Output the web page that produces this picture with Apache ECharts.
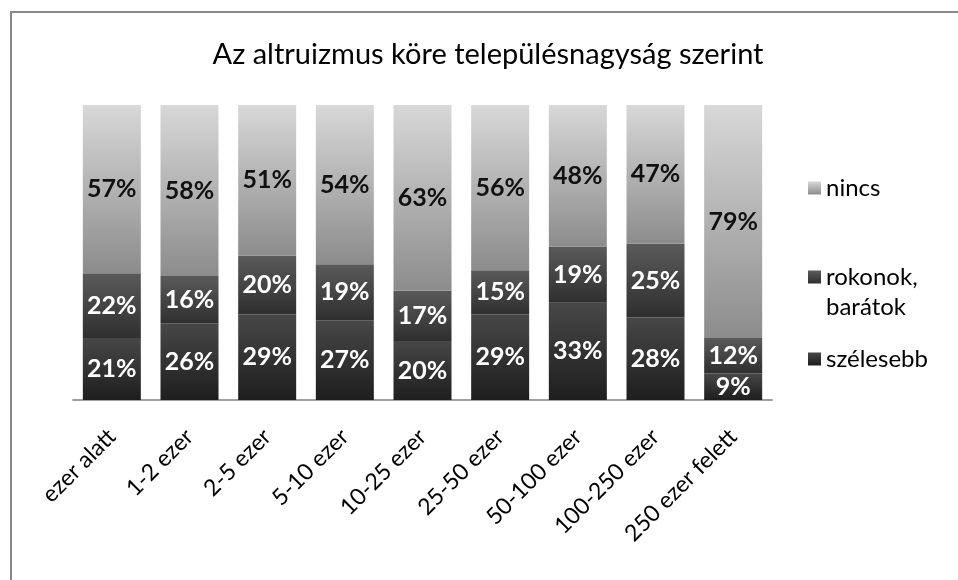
<!DOCTYPE html>
<html>
<head>
<meta charset="utf-8">
<script src="https://cdn.jsdelivr.net/npm/echarts@6/dist/echarts.min.js"></script>
<style>
  html, body { margin: 0; padding: 0; background: #fff; }
  #chart { width: 958px; height: 580px; }
</style>
</head>
<body>
<div id="chart"></div>
<script>
// kategóriák (településnagyság)
const categories = ['ezer alatt', '1-2 ezer', '2-5 ezer', '5-10 ezer', '10-25 ezer', '25-50 ezer', '50-100 ezer', '100-250 ezer', '250 ezer felett'];
// sorozatok, százalék
const szelesebb = [21, 26, 29, 27, 20, 29, 33, 28, 9];
const rokonok = [22, 16, 20, 19, 17, 15, 19, 25, 12];
const nincs = [57, 58, 51, 54, 63, 56, 48, 47, 79];

const font = 'Lato, "Open Sans", sans-serif';

// függőleges színátmenet egy szegmensen belül
function grad(top, bottom) {
  return new echarts.graphic.LinearGradient(0, 0, 0, 1, [
    { offset: 0, color: top },
    { offset: 1, color: bottom }
  ]);
}

const chart = echarts.init(document.getElementById('chart'));

const labelBase = { show: true, position: 'inside', formatter: '{c}%', fontFamily: font, fontSize: 25, fontWeight: 'bold' };

function legendAt(name, top, formatter) {
  return {
    data: [name],
    orient: 'vertical',
    left: 803,
    top: top,
    itemWidth: 13,
    itemHeight: 13,
    icon: 'rect',
    formatter: formatter,
    textStyle: { fontFamily: font, fontSize: 24, color: '#000', lineHeight: 30 }
  };
}

chart.setOption({
  backgroundColor: '#fff',
  title: {
    text: 'Az altruizmus köre településnagyság szerint',
    left: 483,
    top: 35,
    textAlign: 'center',
    textStyle: { fontFamily: font, fontSize: 29, fontWeight: 'normal', color: '#000' }
  },
  legend: [
    legendAt('nincs', 168),
    legendAt('rokonok, barátok', 227, () => '\nrokonok,\nbarátok'),
    legendAt('szélesebb', 339)
  ],
  grid: { left: 73, right: 186, top: 105, bottom: 180 },
  xAxis: {
    type: 'category',
    data: categories,
    axisLine: { lineStyle: { color: '#a0a0a0', width: 2 } },
    axisTick: { show: false },
    axisLabel: { rotate: 45, margin: 33, interval: 0, fontFamily: font, fontSize: 23, color: '#000' }
  },
  yAxis: { type: 'value', min: 0, max: 100, show: false },
  series: [
    {
      name: 'szélesebb', type: 'bar', stack: 'all', barWidth: 58, data: szelesebb,
      itemStyle: { color: grad('#474747', '#1e1e1e') },
      label: Object.assign({ color: '#fff' }, labelBase)
    },
    {
      name: 'rokonok, barátok', type: 'bar', stack: 'all', barWidth: 58, data: rokonok,
      itemStyle: { color: grad('#5a5a5a', '#2f2f2f') },
      label: Object.assign({ color: '#fff' }, labelBase)
    },
    {
      name: 'nincs', type: 'bar', stack: 'all', barWidth: 58, data: nincs,
      itemStyle: { color: grad('#d8d8d8', '#8c8c8c') },
      label: Object.assign({ color: '#111' }, labelBase)
    }
  ],
  graphic: [{
    type: 'polyline',
    shape: { points: [[11, 580], [11, 12], [958, 12]] },
    style: { stroke: '#888', lineWidth: 2, fill: null }
  }]
});
</script>
</body>
</html>
